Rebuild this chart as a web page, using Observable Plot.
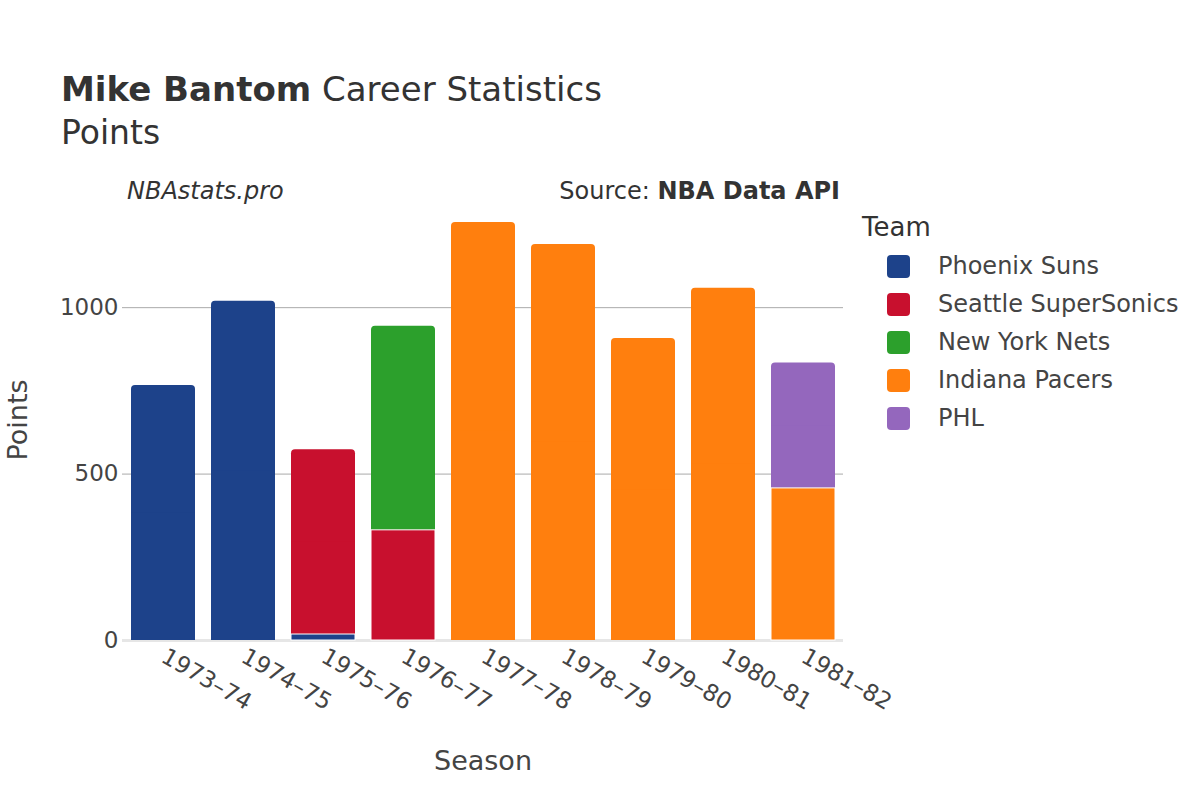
<!DOCTYPE html>
<html>
<head>
<meta charset="utf-8">
<script src="https://cdn.jsdelivr.net/npm/d3@7"></script>
<script src="https://cdn.jsdelivr.net/npm/@observablehq/plot@0.6"></script>
<style>
  body { margin: 0; background: #fff; font-family: "DejaVu Sans", sans-serif; }
  #wrap { position: relative; width: 1200px; height: 800px; overflow: hidden; background: #fff; }
  #chart { position: absolute; left: 0; top: 0; }
  .t { position: absolute; white-space: nowrap; color: #444; line-height: 1; }
  .sw { position: absolute; width: 23px; height: 23px; border-radius: 4px; }
</style>
</head>
<body>
<div id="wrap">
  <div id="chart"></div>
</div>
<script>
// ---- data ----
const seasons = ["1973–74","1974–75","1975–76","1976–77","1977–78","1978–79","1979–80","1980–81","1981–82"];
const teams = ["Phoenix Suns","Seattle SuperSonics","New York Nets","Indiana Pacers","PHL"];
const teamColors = ["#1d428a","#c8102e","#2ca02c","#ff7f0e","#9467bd"];
const phoenixPts = [766, 1019, 18, 0, 0, 0, 0, 0, 0];
const seattlePts = [0, 0, 555, 331, 0, 0, 0, 0, 0];
const netsPts    = [0, 0, 0, 613, 0, 0, 0, 0, 0];
const pacersPts  = [0, 0, 0, 0, 1256, 1190, 907, 1058, 457];
const phlPts     = [0, 0, 0, 0, 0, 0, 0, 0, 377];
const yTicks = [0, 500, 1000];
const titleName = "Mike Bantom";
const titleRest = " Career Statistics";
const subtitle = "Points";
const credit = "NBAstats.pro";
const sourceLabel = "Source: ";
const sourceName = "NBA Data API";
const xTitle = "Season";
const yTitle = "Points";
const legendTitle = "Team";

// ---- table (stacked in team order) ----
const series = [phoenixPts, seattlePts, netsPts, pacersPts, phlPts];
const rows = [];
seasons.forEach((s, si) => {
  let base = 0;
  const segs = [];
  series.forEach((arr, ti) => {
    const v = arr[si];
    if (v > 0) {
      segs.push({season: s, team: teams[ti], points: v, y1: base, y2: base + v, top: false});
      base += v;
    }
  });
  if (segs.length) segs[segs.length - 1].top = true;
  rows.push(...segs);
});
const lowerRows = rows.filter(d => !d.top);
const topRows = rows.filter(d => d.top);

const chart = Plot.plot({
  width: 1200,
  height: 800,
  marginLeft: 122,
  marginRight: 357,
  marginTop: 200,
  marginBottom: 160,
  style: {fontFamily: "DejaVu Sans, sans-serif", fontSize: "23px", color: "#444", background: "transparent"},
  x: {domain: seasons, paddingInner: 0.2, paddingOuter: 0.1, label: null},
  y: {domain: [0, 1322], label: null},
  color: {domain: teams, range: teamColors},
  marks: [
    Plot.gridY(yTicks.filter(d => d > 0), {stroke: "#aaa", strokeOpacity: 1, strokeWidth: 1}),
    Plot.ruleY([0], {stroke: "#e6e6e6", strokeWidth: 3}),
    // top segments with rounded corners
    Plot.barY(topRows, {x: "season", y1: "y1", y2: "y2", fill: "team", rx: 4}),
    // square off their bottom corners
    Plot.barY(topRows, {x: "season", y1: "y1", y2: d => d.y1 + d.points / 2, fill: "team"}),
    // lower segments
    Plot.barY(lowerRows, {x: "season", y1: "y1", y2: "y2", fill: "team", stroke: "#fff", strokeWidth: 1}),
    Plot.axisY(yTicks, {tickSize: 0, tickPadding: 4, fontSize: 23, tickFormat: d => String(d), label: null}),
    Plot.axisX({tickSize: 0, tickPadding: 14, tickRotate: 30, fontSize: 23, label: null})
  ]
});
document.getElementById("chart").appendChild(chart);

// ---- text overlays (title, credits, axis titles, legend) ----
const wrap = document.getElementById("wrap");
function addText(html, x, baseline, fs, opts = {}) {
  const d = document.createElement("div");
  d.className = "t";
  d.innerHTML = html;
  d.style.fontSize = fs + "px";
  d.style.top = (baseline - 0.846 * fs) + "px";
  if (opts.right) d.style.right = (1200 - x) + "px"; else d.style.left = x + "px";
  if (opts.color) d.style.color = opts.color;
  if (opts.italic) d.style.fontStyle = "italic";
  wrap.appendChild(d);
  return d;
}
addText(`<b>${titleName}</b>${titleRest}`, 61, 101, 34, {color: "#333"});
addText(subtitle, 61, 144, 33, {color: "#333"});
addText(credit, 127, 199, 24, {italic: true, color: "#333"});
addText(`${sourceLabel}<b>${sourceName}</b>`, 840, 199, 24, {right: true, color: "#333"});
addText(legendTitle, 862, 236, 26, {color: "#333"});

// axis titles
const xt = document.createElement("div");
xt.className = "t"; xt.textContent = xTitle; xt.style.fontSize = "27px";
xt.style.left = "483px"; xt.style.top = "760px"; xt.style.transform = "translate(-50%,-50%)";
wrap.appendChild(xt);
const yt = document.createElement("div");
yt.className = "t"; yt.textContent = yTitle; yt.style.fontSize = "27px";
yt.style.left = "17px"; yt.style.top = "420px"; yt.style.transform = "translate(-50%,-50%) rotate(-90deg)";
wrap.appendChild(yt);

// legend
teams.forEach((tm, i) => {
  const cy = 266 + i * 38;
  const s = document.createElement("div");
  s.className = "sw";
  s.style.left = "887px";
  s.style.top = (cy - 11.5) + "px";
  s.style.background = teamColors[i];
  wrap.appendChild(s);
  addText(tm, 938, cy + 8.7, 24, {color: "#444"});
});
</script>
</body>
</html>
